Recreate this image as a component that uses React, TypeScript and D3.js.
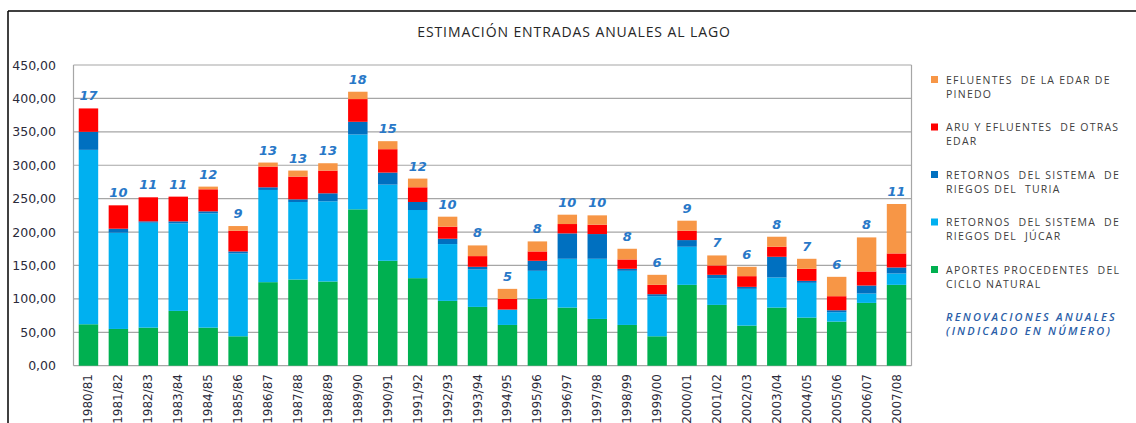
import React from "react";
import * as d3 from "d3";

// hydrological years
const years = [
  "1980/81", "1981/82", "1982/83", "1983/84", "1984/85", "1985/86", "1986/87",
  "1987/88", "1988/89", "1989/90", "1990/91", "1991/92", "1992/93", "1993/94",
  "1994/95", "1995/96", "1996/97", "1997/98", "1998/99", "1999/00", "2000/01",
  "2001/02", "2002/03", "2003/04", "2004/05", "2005/06", "2006/07", "2007/08",
];

// series (hm3), bottom to top
const natural = [62, 55, 57, 82, 57, 44, 125, 129, 126, 234, 157, 131, 97, 88, 61, 100, 87, 70, 61, 44, 121, 91, 60, 87, 72, 66, 94, 121];
const jucar = [261, 144, 157, 131, 171, 124, 138, 116, 120, 112, 114, 102, 85, 56, 23, 42, 73, 90, 81, 60, 57, 40, 55, 45, 52, 14, 14, 17];
const turia = [27, 6, 2, 3, 3, 3, 4, 4, 12, 19, 18, 12, 8, 4, 0, 15, 38, 37, 3, 3, 10, 5, 3, 31, 3, 3, 12, 9];
const aru = [35, 35, 36, 37, 33, 31, 31, 34, 34, 34, 35, 22, 18, 16, 16, 14, 14, 14, 14, 14, 14, 14, 16, 15, 18, 21, 21, 21];
const pinedo = [0, 0, 0, 0, 4, 7, 6, 9, 11, 11, 12, 13, 15, 16, 15, 15, 14, 14, 16, 15, 15, 15, 14, 15, 15, 29, 51, 74];

// renovaciones anuales
const renovaciones = [17, 10, 11, 11, 12, 9, 13, 13, 13, 18, 15, 12, 10, 8, 5, 8, 10, 10, 8, 6, 9, 7, 6, 8, 7, 6, 8, 11];

const yTicks = [0, 50, 100, 150, 200, 250, 300, 350, 400, 450];

const keys = ["natural", "jucar", "turia", "aru", "pinedo"];
const colors: Record<string, string> = {
  natural: "#00b050",
  jucar: "#00b0f0",
  turia: "#0070c0",
  aru: "#ff0000",
  pinedo: "#f79646",
};
const legend = [
  { key: "pinedo", lines: ["EFLUENTES  DE LA EDAR DE", "PINEDO"] },
  { key: "aru", lines: ["ARU Y EFLUENTES  DE OTRAS", "EDAR"] },
  { key: "turia", lines: ["RETORNOS  DEL SISTEMA  DE", "RIEGOS DEL  TURIA"] },
  { key: "jucar", lines: ["RETORNOS  DEL SISTEMA  DE", "RIEGOS DEL  JÚCAR"] },
  { key: "natural", lines: ["APORTES PROCEDENTES  DEL", "CICLO NATURAL"] },
];

export default function App() {
  const width = 1136;
  const height = 423;
  const left = 73.5, right = 911.5, top = 65, bottom = 365.7;

  const rows = years.map((y, i) => ({
    year: y,
    natural: natural[i],
    jucar: jucar[i],
    turia: turia[i],
    aru: aru[i],
    pinedo: pinedo[i],
  }));
  const stacked = d3.stack<any>().keys(keys)(rows);

  const x = d3.scaleBand().domain(years).range([left, right]).paddingInner(0.35).paddingOuter(0.175);
  const y = d3.scaleLinear().domain([0, 450]).range([bottom, top]);
  const fmt = (v: number) => d3.format(".2f")(v).replace(".", ",");

  const totals = rows.map((r) => r.natural + r.jucar + r.turia + r.aru + r.pinedo);

  return (
    <svg width={width} height={height} style={{ position: "absolute", left: 0, top: 0, background: "#fff" }}>
      {/* outer frame */}
      <line x1={8} y1={11} x2={width} y2={11} stroke="#000" strokeWidth={1.5} />
      <line x1={8} y1={11} x2={8} y2={height} stroke="#000" strokeWidth={1.5} />

      <text x={574} y={36.5} textAnchor="middle" fontFamily="Open Sans" fontSize={14} letterSpacing={0.9} fill="#262626">
        ESTIMACIÓN ENTRADAS ANUALES AL LAGO
      </text>

      {/* grid */}
      {yTicks.map((t) => (
        <g key={t}>
          <line x1={left} x2={right} y1={y(t)} y2={y(t)} stroke="#a6a6a6" strokeWidth={1.2} />
          <text x={56} y={y(t) + 4.5} textAnchor="end" fontFamily="DejaVu Sans" fontSize={12.5} fill="#2b2b3b">
            {fmt(t)}
          </text>
        </g>
      ))}
      <line x1={left} x2={left} y1={top} y2={bottom} stroke="#a6a6a6" strokeWidth={1.2} />
      <line x1={right} x2={right} y1={top} y2={bottom} stroke="#a6a6a6" strokeWidth={1.2} />

      {/* bars */}
      {stacked.map((s) => (
        <g key={s.key} fill={colors[s.key]}>
          {s.map((d, i) => (
            <rect
              key={i}
              x={x(years[i])}
              width={x.bandwidth()}
              y={y(d[1])}
              height={Math.max(0, y(d[0]) - y(d[1]))}
            />
          ))}
        </g>
      ))}

      {/* renewals */}
      {renovaciones.map((r, i) => (
        <text
          key={i}
          x={(x(years[i]) as number) + x.bandwidth() / 2}
          y={y(totals[i]) - 8}
          textAnchor="middle"
          fontFamily="DejaVu Sans"
          fontWeight="bold"
          fontStyle="italic"
          fontSize={13}
          fill="#2878c8"
        >
          {r}
        </text>
      ))}

      {/* x labels */}
      {years.map((yr) => {
        const cx = (x(yr) as number) + x.bandwidth() / 2 + 4;
        return (
          <text
            key={yr}
            transform={`translate(${cx},374) rotate(-90)`}
            textAnchor="end"
            fontFamily="DejaVu Sans"
            fontSize={12}
            fill="#2b2b3b"
          >
            {yr}
          </text>
        );
      })}

      {/* legend */}
      {legend.map((l, i) => (
        <g key={l.key} transform={`translate(931,${76 + i * 47.5})`}>
          <rect x={0} y={0} width={7} height={7} fill={colors[l.key]} />
          {l.lines.map((ln, j) => (
            <text
              key={j}
              x={15}
              y={7.5 + j * 14}
              fontFamily="Open Sans"
              fontSize={10.5}
              letterSpacing={1.25}
              fill="#404040"
              style={{ whiteSpace: "pre" }}
            >
              {ln}
            </text>
          ))}
        </g>
      ))}
      <text x={946} y={321} fontFamily="Open Sans" fontStyle="italic" fontWeight="600" fontSize={11} letterSpacing={2.2} fill="#2a5ea8">
        RENOVACIONES ANUALES
      </text>
      <text x={946} y={335} fontFamily="Open Sans" fontStyle="italic" fontWeight="600" fontSize={11} letterSpacing={2.2} fill="#2a5ea8">
        (INDICADO EN NÚMERO)
      </text>
    </svg>
  );
}
